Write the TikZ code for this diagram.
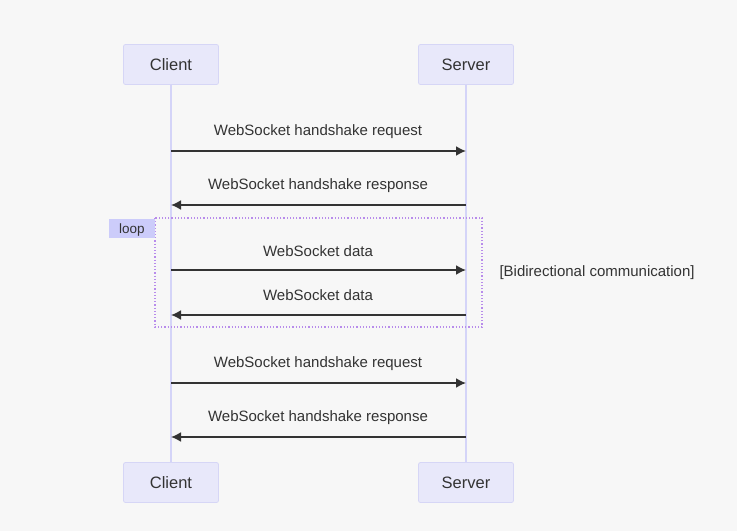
\documentclass[tikz,border=0pt]{standalone}
\usepackage{fontspec}
\setmainfont{Liberation Sans}
\usetikzlibrary{arrows.meta}

\definecolor{bgcol}{HTML}{F7F7F7}
\definecolor{actorfill}{HTML}{E8E8FA}
\definecolor{actorline}{HTML}{D6D6F6}
\definecolor{lifecol}{HTML}{D4D4F8}
\definecolor{loopcol}{HTML}{B88CEB}
\definecolor{looplabel}{HTML}{CCCCFA}
\definecolor{textcol}{HTML}{333333}

\tikzset{
  actor/.style={draw=actorline, fill=actorfill, rounded corners=2pt, line width=0.8pt,
    minimum width=95pt, minimum height=40pt, text=textcol, font=\fontsize{16.5}{18}\selectfont},
  lifeline/.style={draw=lifecol, line width=1.5pt},
  msg/.style={draw=textcol, line width=1.7pt, -{Latex[length=10pt,width=10pt]}},
  msgtext/.style={text=textcol, font=\fontsize{15}{17}\selectfont},
  loopbox/.style={draw=loopcol, line width=1.2pt, dash pattern=on 1.2pt off 2pt},
}

\begin{document}
\begin{tikzpicture}[x=1pt, y=-1pt]
% Background
\fill[bgcol] (0,0) rectangle (737,531);

% Actors
\node[actor] (clienttop) at (171,64.5) {Client};
\node[actor] (servertop) at (466,64.5) {Server};
\node[actor] (clientbot) at (171,482.5) {Client};
\node[actor] (serverbot) at (466,482.5) {Server};

% Lifelines
\draw[lifeline] (clienttop.south) -- (clientbot.north);
\draw[lifeline] (servertop.south) -- (serverbot.north);

% Loop frame
\draw[loopbox] (155,218) rectangle (482,327);
\node[fill=looplabel, minimum width=46pt, minimum height=19pt, inner sep=0pt] (looptag) at (132,228.5) {};
\node[text=textcol, font=\fontsize{13.5}{15}\selectfont] (looptext) at (132,230) {loop};
\node[msgtext, anchor=west] (loopcond) at (496,273) {[Bidirectional communication]};

% Message end points
\coordinate (c1) at (171,151); \coordinate (s1) at (466,151);
\coordinate (c2) at (171,205); \coordinate (s2) at (466,205);
\coordinate (c3) at (171,270); \coordinate (s3) at (466,270);
\coordinate (c4) at (171,315); \coordinate (s4) at (466,315);
\coordinate (c5) at (171,383); \coordinate (s5) at (466,383);
\coordinate (c6) at (171,437); \coordinate (s6) at (466,437);

% Messages
\draw[msg] (c1) -- (s1);
\node[msgtext] (m1) at (318,131.5) {WebSocket handshake request};
\draw[msg] (s2) -- (c2);
\node[msgtext] (m2) at (318,185.5) {WebSocket handshake response};
\draw[msg] (c3) -- (s3);
\node[msgtext] (m3) at (318,251.5) {WebSocket data};
\draw[msg] (s4) -- (c4);
\node[msgtext] (m4) at (318,295.5) {WebSocket data};
\draw[msg] (c5) -- (s5);
\node[msgtext] (m5) at (318,363.5) {WebSocket handshake request};
\draw[msg] (s6) -- (c6);
\node[msgtext] (m6) at (318,417.5) {WebSocket handshake response};
\end{tikzpicture}
\end{document}
